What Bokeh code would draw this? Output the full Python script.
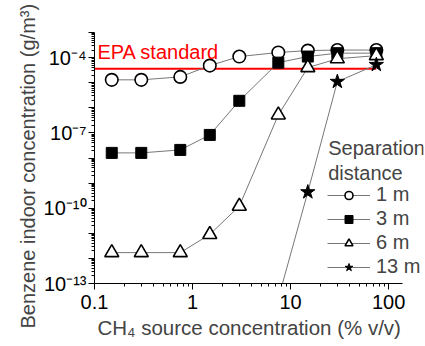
from bokeh.plotting import figure
from bokeh.models import (FixedTicker, Legend, LegendItem, Label, Title)
from bokeh.embed import file_html
from bokeh.resources import INLINE

# ---- data ----
x_all = [0.15, 0.3, 0.75, 1.5, 3, 7.5, 15, 30, 75]
y_1m = [1.3e-5, 1.3e-5, 1.7e-5, 4.8e-5, 1.1e-4, 1.6e-4, 1.9e-4, 2.0e-4, 2.0e-4]
y_3m = [1.6e-8, 1.6e-8, 2.1e-8, 8.3e-8, 1.9e-6, 6.3e-5, 1.1e-4, 1.5e-4, 1.5e-4]
y_6m = [1.7e-12, 1.7e-12, 1.7e-12, 9e-12, 1.2e-10, 5.2e-7, 4e-5, 9e-5, 1.2e-4]
x_13m = [7.5, 15, 30, 75]
y_13m = [2.5e-14, 4.4e-10, 1.1e-5, 5.2e-5]
epa_x = [0.1, 75]
epa_y = [3.6e-5, 3.6e-5]
series_labels = ["1 m", "3 m", "6 m", "13 m"]
y_tick_labels = {-13: "10⁻¹³", -10: "10⁻¹⁰", -7: "10⁻⁷", -4: "10⁻⁴"}
x_tick_labels = {0.1: "0.1", 1: "1", 10: "10", 100: "100"}
x_title = "CH₄ source concentration (% v/v)"
y_title = "Benzene indoor concentration (g/m³)"

FONT = "Liberation Sans"
FS = "20px"

p = figure(width=425, height=346, x_axis_type="log", y_axis_type="log",
           x_range=(0.1, 227), y_range=(1e-13, 1e-3),
           output_backend="svg", toolbar_location=None,
           min_border_left=94, min_border_right=2, min_border_top=32,
           min_border_bottom=63)
p.outline_line_color = None
p.grid.visible = False
p.background_fill_color = "white"

# axes ticks
xt = [0.1, 1, 10, 100]
xminor = [k * d for d in [0.1, 1, 10] for k in range(2, 10)]
p.xaxis.ticker = FixedTicker(ticks=xt, minor_ticks=xminor)
p.xaxis.major_label_overrides = {v: s for v, s in x_tick_labels.items()}
p.xaxis.bounds = (0.1, 140)
yt = [10.0 ** e for e in range(-13, -2)]
yminor = [k * 10.0 ** e for e in range(-13, -3) for k in range(2, 10)]
p.yaxis.ticker = FixedTicker(ticks=yt, minor_ticks=yminor)
p.yaxis.major_label_overrides = {10.0 ** e: y_tick_labels.get(e, "") for e in range(-13, -2)}

for ax in (p.xaxis[0], p.yaxis[0]):
    ax.major_label_text_font = FONT
    ax.major_label_text_font_size = FS
    ax.major_label_text_color = "black"
    ax.major_tick_out = 6
    ax.major_tick_in = 0
    ax.minor_tick_out = 3
    ax.minor_tick_in = 0
    ax.axis_line_color = "black"
    ax.major_tick_line_color = "black"
    ax.minor_tick_line_color = "black"
    ax.major_label_standoff = 2
p.xaxis.major_label_standoff = 5

# axis titles as side-panel titles (offset to match the reference)
p.add_layout(Title(text=x_title, text_font=FONT, text_font_size="20.5px",
                   text_font_style="normal", align="left", offset=3,
                   standoff=4), "below")
p.add_layout(Title(text=y_title, text_font=FONT, text_font_size=FS,
                   text_font_style="normal", align="left", offset=-45,
                   standoff=4), "left")

# EPA line
p.line(epa_x, epa_y, line_color="red", line_width=2)
p.add_layout(Label(x=0.107, y=1.6e-4, text="EPA standard", text_color="red",
                   text_font=FONT, text_font_size=FS, text_baseline="middle"))

LC = "#777777"
items = []
l1 = p.line(x_all, y_1m, line_color=LC, line_width=1)
m1 = p.scatter(x_all, y_1m, marker="circle", size=12.5, fill_color="white",
               line_color="black", line_width=1.6)
l2 = p.line(x_all, y_3m, line_color=LC, line_width=1)
m2 = p.scatter(x_all, y_3m, marker="square", size=11, fill_color="black",
               line_color="black")
l3 = p.line(x_all, y_6m, line_color=LC, line_width=1)
m3 = p.scatter(x_all, y_6m, marker="triangle", size=14, fill_color="white",
               line_color="black", line_width=1.6)
l4 = p.line(x_13m, y_13m, line_color=LC, line_width=1)
m4 = p.scatter(x_13m, y_13m, marker="star", size=15, fill_color="black",
               line_color="black")

for lab, rs in zip(series_labels, [[l1, m1], [l2, m2], [l3, m3], [l4, m4]]):
    items.append(LegendItem(label=lab, renderers=rs))

legend = Legend(items=items, location=(233, 5), border_line_color=None,
                background_fill_alpha=0, padding=0, margin=0, spacing=1,
                glyph_width=43, glyph_height=20, label_height=20,
                label_standoff=6, label_text_font=FONT, label_text_font_size=FS)
p.add_layout(legend)

p.add_layout(Label(x=24.2, y=2.6e-8, text="Separation", text_font=FONT,
                   text_font_size=FS, text_baseline="middle"))
p.add_layout(Label(x=24.2, y=2.6e-9, text="distance", text_font=FONT,
                   text_font_size=FS, text_baseline="middle"))

open("out.html", "w").write(file_html(p, INLINE))
